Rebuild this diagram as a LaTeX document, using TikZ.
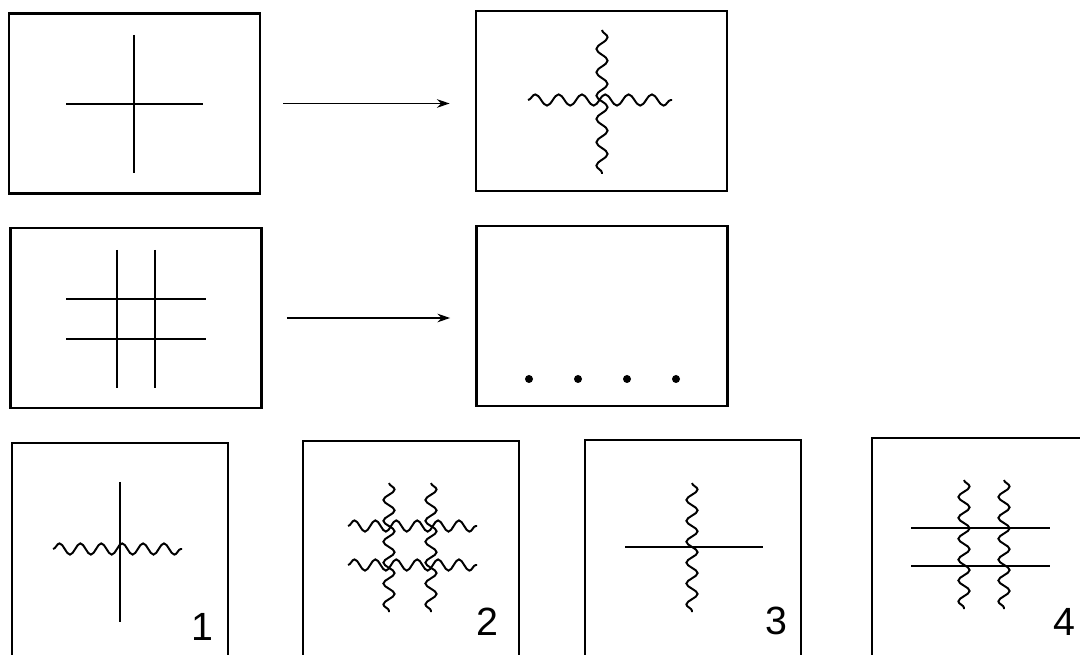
\documentclass[tikz,border=0pt]{standalone}
\usepackage{fontspec}
\setmainfont{Liberation Sans}
\usetikzlibrary{arrows.meta,decorations.pathmorphing}

\begin{document}
\begin{tikzpicture}[x=0.025cm, y=-0.025cm,
		panel/.style={draw, line width=1.8pt, minimum width=6.28cm, minimum height=4.5cm, inner sep=0pt},
		choice/.style={draw, line width=1.8pt, minimum width=5.4cm, minimum height=5.6cm, inner sep=0pt},
		rod/.style={line width=1.4pt},
		wave/.style={line width=1.4pt, decorate, decoration={snake, amplitude=0.14cm, segment length=#1}},
		wave/.default=0.583cm,
		flow/.style={line width=1.3pt, -{Stealth[length=9pt, width=6pt]}},
		tag/.style={font=\fontsize{28}{30}\selectfont, inner sep=0pt},
		]

		\path[use as bounding box, clip] (0,0) rectangle (1080,655);

		\def\bw{0.522cm}

		% top row
		\node[panel] (cross-in)  at (134.5,103.5) {};
		\node[panel] (cross-out) at (601.5,101) {};
		\draw[rod] (134,35) -- (134,173);
		\draw[rod] (66,104) -- (203,104);
		\draw[wave] (602,30) -- (602,174);
		\draw[wave] (528,100) -- (672,100);
		\draw[flow, shorten <=15.6pt, shorten >=17.7pt] (cross-in.east) -- (cross-in.east -| cross-out.west);

		% middle row
		\node[panel] (grid-in)  at (136,318) {};
		\node[panel] (grid-out) at (602,316) {};
		\foreach \x in {117,155} \draw[rod] (\x,250) -- (\x,388);
		\foreach \y in {299,339} \draw[rod] (66,\y) -- (206,\y);
		\foreach \x in {529,578,627,676} \fill (\x,379) circle (0.1cm);
		\draw[flow, shorten <=17pt, shorten >=17.7pt] (grid-in.east) -- (grid-in.east -| grid-out.west);

		% answers
		\node[choice] (opt1) at (120,555) {};
		\node[choice] (opt2) at (411,553) {};
		\node[choice] (opt3) at (693,552) {};
		\node[choice] (opt4) at (980,550) {};

		\draw[rod] (120,482) -- (120,622);
		\draw[wave=\bw] (53,549) -- (182,549);

		\foreach \x in {389,431} \draw[wave=\bw] (\x,483) -- (\x,612);
		\foreach \y in {526,565} \draw[wave=\bw] (348,\y) -- (477,\y);

		\draw[wave=\bw] (692,483) -- (692,612);
		\draw[rod] (625,547) -- (763,547);

		\foreach \x in {964,1004} \draw[wave=\bw] (\x,480) -- (\x,609);
		\foreach \y in {528,566} \draw[rod] (911,\y) -- (1050,\y);

		\node[tag] (n1) at (202,627) {1};
		\node[tag] (n2) at (487,622) {2};
		\node[tag] (n3) at (776,621) {3};
		\node[tag] (n4) at (1064,622) {4};

	\end{tikzpicture}
\end{document}
